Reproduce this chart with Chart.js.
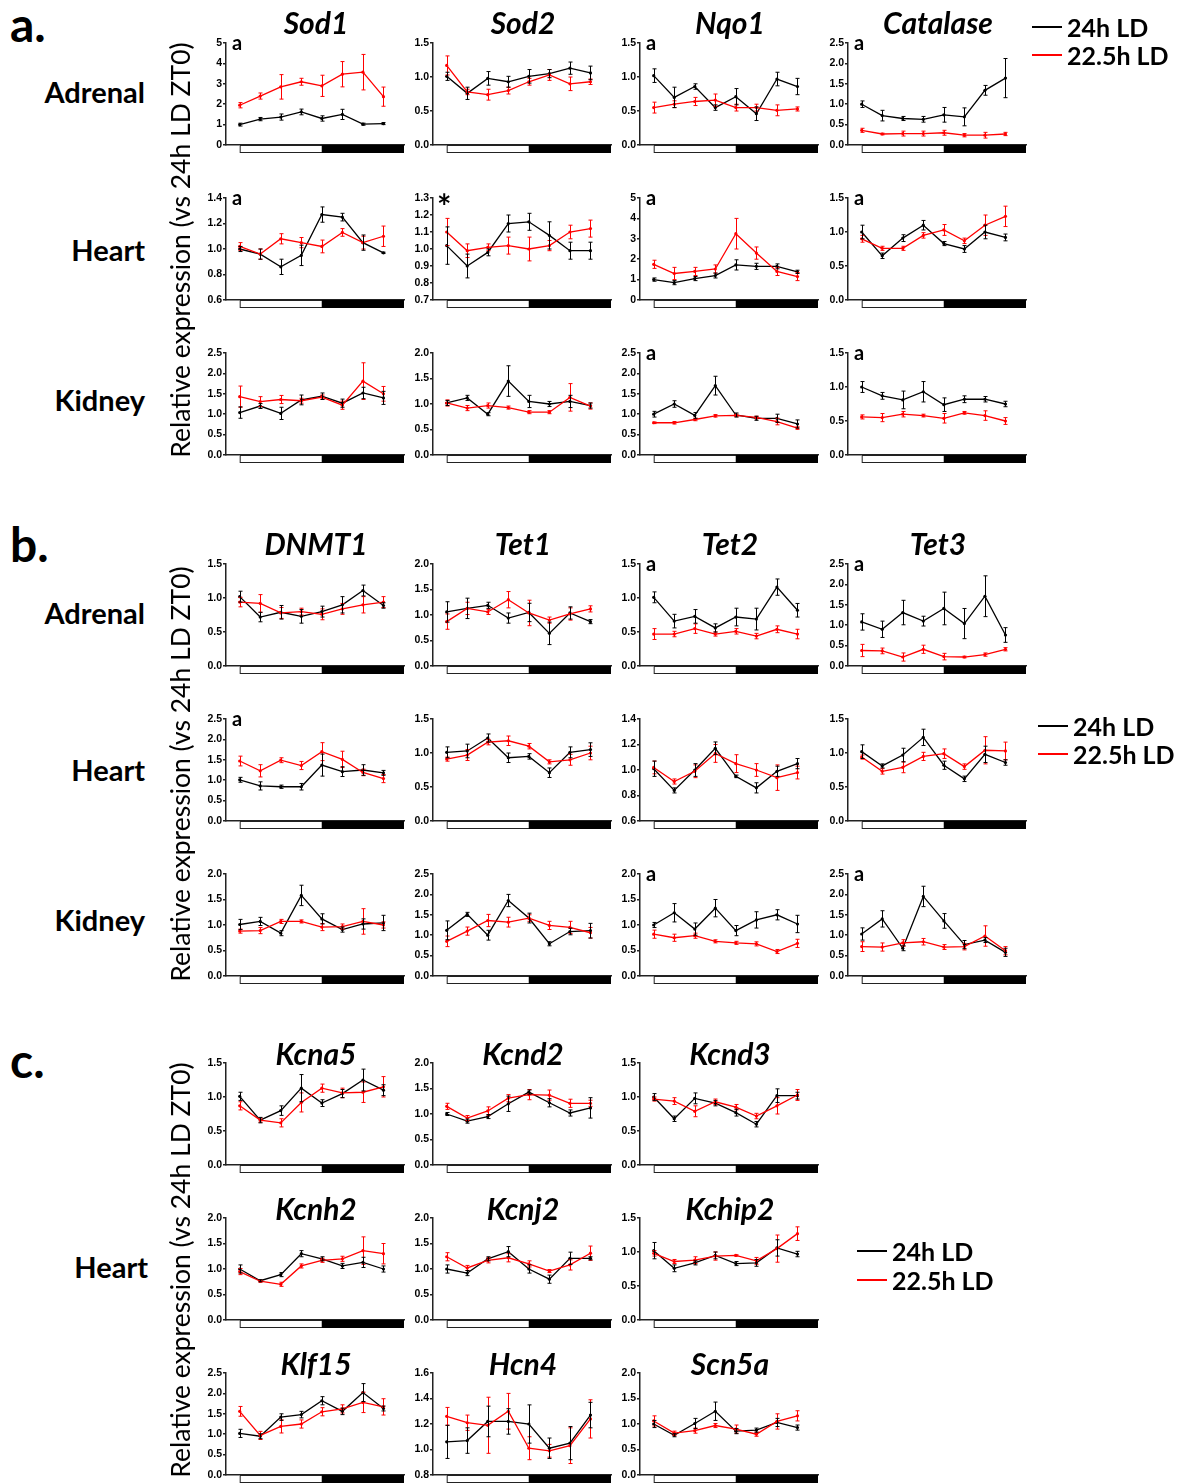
<!DOCTYPE html>
<html>
<head>
<meta charset="utf-8">
<script src="https://cdn.jsdelivr.net/npm/chart.js@4.4.1/dist/chart.umd.min.js"></script>
<style>
  body { margin: 0; background: #fff; }
  #fig { position: relative; width: 1185px; height: 1483px; background: #fff; overflow: hidden; font-family: Lato, "Open Sans", sans-serif; color: #000; }
  #fig canvas { position: absolute; }
  .txt { position: absolute; white-space: nowrap; line-height: 1; }
  .sec { font-weight: 700; font-size: 48px; }
  .ttl { font-weight: 700; font-style: italic; font-size: 30px; transform: translate(-50%, -50%); }
  .row { font-weight: 700; font-size: 29px; transform: translate(-100%, -50%); }
  .ylab { font-size: 26.5px; transform: translate(-50%, -50%) rotate(-90deg); }
  .mark { font-weight: 700; font-size: 20px; }
  .leg { font-weight: 700; font-size: 25px; transform: translateY(-50%); }
  .legline { position: absolute; width: 30px; height: 2px; }
</style>
</head>
<body>
<div id="fig"></div>
<script>
const ztHours = [0, 3, 6, 9, 12, 15, 18, 21];

// a. adrenal
const sod1Adr24 = [1.0, 1.27, 1.37, 1.62, 1.3, 1.5, 1.02, 1.05];
const sod1Adr24Err = [0.07, 0.08, 0.15, 0.14, 0.13, 0.25, 0.05, 0.05];
const sod1Adr22 = [1.95, 2.4, 2.85, 3.1, 2.9, 3.47, 3.57, 2.37];
const sod1Adr22Err = [0.13, 0.15, 0.6, 0.17, 0.52, 0.62, 0.87, 0.47];
const sod2Adr24 = [1.01, 0.76, 0.98, 0.93, 1.01, 1.05, 1.13, 1.06];
const sod2Adr24Err = [0.06, 0.09, 0.1, 0.08, 0.1, 0.06, 0.09, 0.1];
const sod2Adr22 = [1.17, 0.78, 0.74, 0.8, 0.93, 1.03, 0.9, 0.93];
const sod2Adr22Err = [0.14, 0.04, 0.08, 0.05, 0.05, 0.08, 0.1, 0.04];
const nqo1Adr24 = [1.02, 0.7, 0.86, 0.55, 0.71, 0.46, 0.97, 0.86];
const nqo1Adr24Err = [0.1, 0.15, 0.04, 0.04, 0.12, 0.1, 0.1, 0.12];
const nqo1Adr22 = [0.55, 0.6, 0.64, 0.66, 0.55, 0.55, 0.51, 0.53];
const nqo1Adr22Err = [0.08, 0.05, 0.06, 0.09, 0.05, 0.05, 0.08, 0.03];
const catAdr24 = [1.0, 0.72, 0.65, 0.63, 0.74, 0.69, 1.34, 1.64];
const catAdr24Err = [0.08, 0.13, 0.05, 0.07, 0.18, 0.22, 0.12, 0.48];
const catAdr22 = [0.36, 0.27, 0.28, 0.28, 0.3, 0.24, 0.24, 0.27];
const catAdr22Err = [0.05, 0.02, 0.06, 0.06, 0.06, 0.04, 0.07, 0.04];

// a. heart
const sod1Hrt24 = [1.0, 0.96, 0.86, 0.95, 1.27, 1.25, 1.05, 0.97];
const sod1Hrt24Err = [0.02, 0.04, 0.06, 0.08, 0.06, 0.03, 0.06, 0.005];
const sod1Hrt22 = [1.02, 0.96, 1.08, 1.05, 1.02, 1.13, 1.05, 1.1];
const sod1Hrt22Err = [0.03, 0.04, 0.04, 0.04, 0.05, 0.03, 0.05, 0.08];
const sod2Hrt24 = [1.02, 0.9, 0.98, 1.15, 1.16, 1.08, 0.99, 0.99];
const sod2Hrt24Err = [0.11, 0.07, 0.02, 0.05, 0.05, 0.08, 0.05, 0.05];
const sod2Hrt22 = [1.1, 0.99, 1.01, 1.02, 1.0, 1.02, 1.1, 1.12];
const sod2Hrt22Err = [0.08, 0.04, 0.02, 0.05, 0.07, 0.03, 0.04, 0.05];
const nqo1Hrt24 = [1.0, 0.85, 1.05, 1.2, 1.72, 1.65, 1.65, 1.38];
const nqo1Hrt24Err = [0.08, 0.1, 0.1, 0.12, 0.25, 0.15, 0.12, 0.08];
const nqo1Hrt22 = [1.75, 1.3, 1.4, 1.52, 3.25, 2.3, 1.4, 1.15];
const nqo1Hrt22Err = [0.2, 0.3, 0.2, 0.2, 0.75, 0.3, 0.2, 0.2];
const catHrt24 = [1.0, 0.65, 0.91, 1.1, 0.83, 0.75, 1.0, 0.92];
const catHrt24Err = [0.1, 0.04, 0.05, 0.07, 0.03, 0.05, 0.1, 0.05];
const catHrt22 = [0.9, 0.76, 0.76, 0.95, 1.03, 0.87, 1.1, 1.23];
const catHrt22Err = [0.05, 0.03, 0.03, 0.04, 0.08, 0.04, 0.15, 0.15];

// a. kidney
const sod1Kid24 = [1.04, 1.2, 1.02, 1.35, 1.44, 1.27, 1.52, 1.4];
const sod1Kid24Err = [0.14, 0.06, 0.15, 0.12, 0.08, 0.1, 0.14, 0.16];
const sod1Kid22 = [1.43, 1.31, 1.36, 1.33, 1.42, 1.22, 1.81, 1.5];
const sod1Kid22Err = [0.26, 0.12, 0.1, 0.06, 0.05, 0.1, 0.45, 0.18];
const sod2Kid24 = [1.02, 1.12, 0.8, 1.45, 1.05, 1.0, 1.05, 0.97];
const sod2Kid24Err = [0.05, 0.05, 0.03, 0.3, 0.12, 0.05, 0.12, 0.05];
const sod2Kid22 = [1.02, 0.92, 0.97, 0.93, 0.84, 0.84, 1.13, 0.96];
const sod2Kid22Err = [0.06, 0.05, 0.05, 0.03, 0.03, 0.03, 0.27, 0.06];
const nqo1Kid24 = [1.0, 1.25, 0.97, 1.7, 0.98, 0.9, 0.9, 0.76];
const nqo1Kid24Err = [0.07, 0.08, 0.07, 0.23, 0.05, 0.05, 0.1, 0.1];
const nqo1Kid22 = [0.79, 0.79, 0.87, 0.96, 0.97, 0.92, 0.82, 0.66];
const nqo1Kid22Err = [0.02, 0.03, 0.03, 0.03, 0.03, 0.03, 0.08, 0.03];
const catKid24 = [1.0, 0.87, 0.81, 0.93, 0.74, 0.82, 0.82, 0.75];
const catKid24Err = [0.08, 0.05, 0.13, 0.15, 0.1, 0.05, 0.04, 0.04];
const catKid22 = [0.56, 0.55, 0.6, 0.58, 0.54, 0.62, 0.58, 0.5];
const catKid22Err = [0.03, 0.06, 0.04, 0.02, 0.07, 0.02, 0.07, 0.05];

// b. adrenal
const dnmtAdr24 = [1.02, 0.72, 0.79, 0.73, 0.8, 0.9, 1.11, 0.89];
const dnmtAdr24Err = [0.08, 0.07, 0.1, 0.1, 0.08, 0.12, 0.08, 0.04];
const dnmtAdr22 = [0.94, 0.92, 0.78, 0.8, 0.76, 0.84, 0.9, 0.94];
const dnmtAdr22Err = [0.07, 0.13, 0.08, 0.05, 0.08, 0.08, 0.12, 0.08];
const tet1Adr24 = [1.06, 1.13, 1.19, 0.94, 1.05, 0.64, 1.04, 0.87];
const tet1Adr24Err = [0.2, 0.2, 0.06, 0.1, 0.18, 0.22, 0.12, 0.04];
const tet1Adr22 = [0.87, 1.13, 1.06, 1.3, 1.04, 0.9, 1.02, 1.12];
const tet1Adr22Err = [0.15, 0.12, 0.05, 0.16, 0.25, 0.06, 0.12, 0.06];
const tet2Adr24 = [1.01, 0.66, 0.73, 0.56, 0.72, 0.69, 1.16, 0.82];
const tet2Adr24Err = [0.08, 0.1, 0.1, 0.06, 0.13, 0.16, 0.12, 0.1];
const tet2Adr22 = [0.47, 0.47, 0.55, 0.47, 0.51, 0.44, 0.54, 0.47];
const tet2Adr22Err = [0.08, 0.04, 0.07, 0.03, 0.04, 0.04, 0.05, 0.07];
const tet3Adr24 = [1.08, 0.9, 1.31, 1.1, 1.41, 1.04, 1.71, 0.76];
const tet3Adr24Err = [0.2, 0.2, 0.3, 0.12, 0.4, 0.37, 0.5, 0.18];
const tet3Adr22 = [0.38, 0.37, 0.22, 0.41, 0.23, 0.22, 0.28, 0.41];
const tet3Adr22Err = [0.15, 0.07, 0.1, 0.1, 0.08, 0.02, 0.04, 0.04];

// b. heart
const dnmtHrt24 = [1.01, 0.86, 0.84, 0.84, 1.37, 1.21, 1.25, 1.18];
const dnmtHrt24Err = [0.06, 0.1, 0.04, 0.08, 0.27, 0.12, 0.13, 0.06];
const dnmtHrt22 = [1.47, 1.23, 1.49, 1.36, 1.7, 1.51, 1.19, 1.04];
const dnmtHrt22Err = [0.12, 0.15, 0.06, 0.1, 0.22, 0.2, 0.08, 0.1];
const tet1Hrt24 = [1.01, 1.03, 1.22, 0.93, 0.95, 0.71, 1.01, 1.05];
const tet1Hrt24Err = [0.08, 0.1, 0.06, 0.07, 0.04, 0.07, 0.08, 0.1];
const tet1Hrt22 = [0.91, 0.97, 1.16, 1.18, 1.1, 0.87, 0.9, 1.0];
const tet1Hrt22Err = [0.03, 0.08, 0.04, 0.07, 0.04, 0.03, 0.08, 0.1];
const tet2Hrt24 = [1.01, 0.84, 1.0, 1.17, 0.95, 0.86, 0.99, 1.05];
const tet2Hrt24Err = [0.06, 0.02, 0.05, 0.05, 0.01, 0.04, 0.04, 0.04];
const tet2Hrt22 = [1.02, 0.91, 0.99, 1.13, 1.05, 1.0, 0.94, 0.98];
const tet2Hrt22Err = [0.05, 0.02, 0.05, 0.07, 0.07, 0.05, 0.1, 0.05];
const tet3Hrt24 = [1.02, 0.81, 0.97, 1.23, 0.82, 0.62, 0.98, 0.86];
const tet3Hrt24Err = [0.1, 0.03, 0.1, 0.12, 0.06, 0.04, 0.12, 0.04];
const tet3Hrt22 = [0.94, 0.73, 0.79, 0.95, 0.99, 0.8, 1.04, 1.03];
const tet3Hrt22Err = [0.03, 0.04, 0.08, 0.06, 0.07, 0.04, 0.2, 0.13];

// b. kidney
const dnmtKid24 = [1.01, 1.07, 0.84, 1.58, 1.12, 0.91, 1.02, 1.04];
const dnmtKid24Err = [0.1, 0.08, 0.05, 0.2, 0.1, 0.05, 0.1, 0.15];
const dnmtKid22 = [0.88, 0.89, 1.07, 1.07, 0.96, 0.97, 1.07, 1.0];
const dnmtKid22Err = [0.04, 0.06, 0.04, 0.03, 0.07, 0.05, 0.25, 0.06];
const tet1Kid24 = [1.12, 1.51, 1.0, 1.85, 1.42, 0.79, 1.09, 1.11];
const tet1Kid24Err = [0.23, 0.05, 0.12, 0.15, 0.12, 0.05, 0.08, 0.18];
const tet1Kid22 = [0.85, 1.1, 1.36, 1.32, 1.42, 1.24, 1.19, 1.06];
const tet1Kid22Err = [0.13, 0.1, 0.15, 0.12, 0.08, 0.1, 0.15, 0.13];
const tet2Kid24 = [1.0, 1.24, 0.92, 1.33, 0.89, 1.1, 1.2, 1.02];
const tet2Kid24Err = [0.05, 0.18, 0.12, 0.17, 0.1, 0.16, 0.1, 0.17];
const tet2Kid22 = [0.82, 0.75, 0.79, 0.68, 0.65, 0.63, 0.48, 0.64];
const tet2Kid22Err = [0.08, 0.07, 0.05, 0.03, 0.03, 0.04, 0.04, 0.08];
const tet3Kid24 = [1.03, 1.4, 0.68, 1.95, 1.35, 0.77, 0.88, 0.58];
const tet3Kid24Err = [0.15, 0.2, 0.06, 0.25, 0.18, 0.1, 0.06, 0.1];
const tet3Kid22 = [0.72, 0.71, 0.81, 0.84, 0.71, 0.72, 0.98, 0.62];
const tet3Kid22Err = [0.12, 0.1, 0.08, 0.08, 0.06, 0.08, 0.25, 0.1];

// c. heart
const kcna5_24 = [1.01, 0.66, 0.8, 1.13, 0.91, 1.05, 1.25, 1.1];
const kcna5_24Err = [0.06, 0.04, 0.07, 0.2, 0.05, 0.06, 0.16, 0.08];
const kcna5_22 = [0.87, 0.66, 0.62, 0.92, 1.13, 1.06, 1.07, 1.15];
const kcna5_22Err = [0.06, 0.03, 0.06, 0.14, 0.06, 0.07, 0.15, 0.15];
const kcnd2_24 = [1.0, 0.86, 0.95, 1.2, 1.43, 1.22, 1.02, 1.12];
const kcnd2_24Err = [0.03, 0.04, 0.04, 0.15, 0.04, 0.08, 0.06, 0.2];
const kcnd2_22 = [1.15, 0.92, 1.06, 1.31, 1.38, 1.37, 1.21, 1.21];
const kcnd2_22Err = [0.06, 0.05, 0.08, 0.07, 0.1, 0.1, 0.08, 0.06];
const kcnd3_24 = [1.0, 0.68, 0.98, 0.91, 0.77, 0.6, 1.02, 1.02];
const kcnd3_24Err = [0.05, 0.04, 0.08, 0.04, 0.05, 0.04, 0.1, 0.05];
const kcnd3_22 = [0.97, 0.94, 0.79, 0.93, 0.85, 0.72, 0.87, 1.03];
const kcnd3_22Err = [0.03, 0.05, 0.08, 0.04, 0.04, 0.04, 0.12, 0.08];
const kcnh2_24 = [1.0, 0.77, 0.89, 1.3, 1.2, 1.06, 1.13, 1.0];
const kcnh2_24Err = [0.08, 0.02, 0.04, 0.06, 0.04, 0.05, 0.1, 0.06];
const kcnh2_22 = [0.95, 0.76, 0.7, 1.06, 1.17, 1.2, 1.36, 1.3];
const kcnh2_22Err = [0.06, 0.02, 0.04, 0.04, 0.04, 0.05, 0.27, 0.2];
const kcnj2_24 = [1.0, 0.92, 1.2, 1.34, 1.0, 0.8, 1.21, 1.21];
const kcnj2_24Err = [0.08, 0.05, 0.04, 0.1, 0.08, 0.08, 0.12, 0.03];
const kcnj2_22 = [1.24, 1.02, 1.17, 1.22, 1.1, 0.96, 1.08, 1.31];
const kcnj2_22Err = [0.08, 0.05, 0.05, 0.08, 0.06, 0.03, 0.1, 0.14];
const kchip2_24 = [1.02, 0.76, 0.84, 0.95, 0.83, 0.84, 1.06, 0.97];
const kchip2_24Err = [0.12, 0.05, 0.03, 0.05, 0.03, 0.05, 0.12, 0.04];
const kchip2_22 = [0.98, 0.86, 0.88, 0.94, 0.95, 0.87, 1.05, 1.27];
const kchip2_22Err = [0.04, 0.03, 0.05, 0.06, 0.01, 0.05, 0.2, 0.1];
const klf15_24 = [1.02, 0.95, 1.42, 1.48, 1.82, 1.56, 2.02, 1.63];
const klf15_24Err = [0.1, 0.06, 0.08, 0.08, 0.1, 0.08, 0.22, 0.06];
const klf15_22 = [1.56, 0.97, 1.19, 1.25, 1.55, 1.62, 1.78, 1.67];
const klf15_22Err = [0.12, 0.1, 0.16, 0.1, 0.1, 0.1, 0.25, 0.2];
const hcn4_24 = [1.06, 1.07, 1.22, 1.22, 1.2, 1.01, 1.05, 1.27];
const hcn4_24Err = [0.13, 0.1, 0.12, 0.1, 0.15, 0.08, 0.13, 0.1];
const hcn4_22 = [1.26, 1.21, 1.19, 1.3, 1.01, 0.99, 1.03, 1.24];
const hcn4_22Err = [0.07, 0.06, 0.22, 0.14, 0.09, 0.05, 0.14, 0.15];
const scn5a_24 = [1.0, 0.78, 1.01, 1.25, 0.86, 0.88, 1.03, 0.93];
const scn5a_24Err = [0.07, 0.03, 0.1, 0.18, 0.05, 0.04, 0.08, 0.05];
const scn5a_22 = [1.06, 0.82, 0.87, 0.97, 0.9, 0.8, 1.05, 1.16];
const scn5a_22Err = [0.1, 0.04, 0.05, 0.04, 0.08, 0.04, 0.15, 0.1];

const colLefts = [239, 446, 653, 861];
const topsA = [43, 198, 353];
const topsB = [564, 719, 874];
const topsC = [1063, 1218, 1373];

// [col, top, title, yMin, yMax, step, mark, ld24, ld24Err, ld22, ld22Err]
const panels = [
  [0, topsA[0], 'Sod1', 0, 5, 1, 'a', sod1Adr24, sod1Adr24Err, sod1Adr22, sod1Adr22Err],
  [1, topsA[0], 'Sod2', 0, 1.5, 0.5, '', sod2Adr24, sod2Adr24Err, sod2Adr22, sod2Adr22Err],
  [2, topsA[0], 'Nqo1', 0, 1.5, 0.5, 'a', nqo1Adr24, nqo1Adr24Err, nqo1Adr22, nqo1Adr22Err],
  [3, topsA[0], 'Catalase', 0, 2.5, 0.5, 'a', catAdr24, catAdr24Err, catAdr22, catAdr22Err],
  [0, topsA[1], '', 0.6, 1.4, 0.2, 'a', sod1Hrt24, sod1Hrt24Err, sod1Hrt22, sod1Hrt22Err],
  [1, topsA[1], '', 0.7, 1.3, 0.1, '*', sod2Hrt24, sod2Hrt24Err, sod2Hrt22, sod2Hrt22Err],
  [2, topsA[1], '', 0, 5, 1, 'a', nqo1Hrt24, nqo1Hrt24Err, nqo1Hrt22, nqo1Hrt22Err],
  [3, topsA[1], '', 0, 1.5, 0.5, 'a', catHrt24, catHrt24Err, catHrt22, catHrt22Err],
  [0, topsA[2], '', 0, 2.5, 0.5, '', sod1Kid24, sod1Kid24Err, sod1Kid22, sod1Kid22Err],
  [1, topsA[2], '', 0, 2.0, 0.5, '', sod2Kid24, sod2Kid24Err, sod2Kid22, sod2Kid22Err],
  [2, topsA[2], '', 0, 2.5, 0.5, 'a', nqo1Kid24, nqo1Kid24Err, nqo1Kid22, nqo1Kid22Err],
  [3, topsA[2], '', 0, 1.5, 0.5, 'a', catKid24, catKid24Err, catKid22, catKid22Err],

  [0, topsB[0], 'DNMT1', 0, 1.5, 0.5, '', dnmtAdr24, dnmtAdr24Err, dnmtAdr22, dnmtAdr22Err],
  [1, topsB[0], 'Tet1', 0, 2.0, 0.5, '', tet1Adr24, tet1Adr24Err, tet1Adr22, tet1Adr22Err],
  [2, topsB[0], 'Tet2', 0, 1.5, 0.5, 'a', tet2Adr24, tet2Adr24Err, tet2Adr22, tet2Adr22Err],
  [3, topsB[0], 'Tet3', 0, 2.5, 0.5, 'a', tet3Adr24, tet3Adr24Err, tet3Adr22, tet3Adr22Err],
  [0, topsB[1], '', 0, 2.5, 0.5, 'a', dnmtHrt24, dnmtHrt24Err, dnmtHrt22, dnmtHrt22Err],
  [1, topsB[1], '', 0, 1.5, 0.5, '', tet1Hrt24, tet1Hrt24Err, tet1Hrt22, tet1Hrt22Err],
  [2, topsB[1], '', 0.6, 1.4, 0.2, '', tet2Hrt24, tet2Hrt24Err, tet2Hrt22, tet2Hrt22Err],
  [3, topsB[1], '', 0, 1.5, 0.5, '', tet3Hrt24, tet3Hrt24Err, tet3Hrt22, tet3Hrt22Err],
  [0, topsB[2], '', 0, 2.0, 0.5, '', dnmtKid24, dnmtKid24Err, dnmtKid22, dnmtKid22Err],
  [1, topsB[2], '', 0, 2.5, 0.5, '', tet1Kid24, tet1Kid24Err, tet1Kid22, tet1Kid22Err],
  [2, topsB[2], '', 0, 2.0, 0.5, 'a', tet2Kid24, tet2Kid24Err, tet2Kid22, tet2Kid22Err],
  [3, topsB[2], '', 0, 2.5, 0.5, 'a', tet3Kid24, tet3Kid24Err, tet3Kid22, tet3Kid22Err],

  [0, topsC[0], 'Kcna5', 0, 1.5, 0.5, '', kcna5_24, kcna5_24Err, kcna5_22, kcna5_22Err],
  [1, topsC[0], 'Kcnd2', 0, 2.0, 0.5, '', kcnd2_24, kcnd2_24Err, kcnd2_22, kcnd2_22Err],
  [2, topsC[0], 'Kcnd3', 0, 1.5, 0.5, '', kcnd3_24, kcnd3_24Err, kcnd3_22, kcnd3_22Err],
  [0, topsC[1], 'Kcnh2', 0, 2.0, 0.5, '', kcnh2_24, kcnh2_24Err, kcnh2_22, kcnh2_22Err],
  [1, topsC[1], 'Kcnj2', 0, 2.0, 0.5, '', kcnj2_24, kcnj2_24Err, kcnj2_22, kcnj2_22Err],
  [2, topsC[1], 'Kchip2', 0, 1.5, 0.5, '', kchip2_24, kchip2_24Err, kchip2_22, kchip2_22Err],
  [0, topsC[2], 'Klf15', 0, 2.5, 0.5, '', klf15_24, klf15_24Err, klf15_22, klf15_22Err],
  [1, topsC[2], 'Hcn4', 0.8, 1.6, 0.2, '', hcn4_24, hcn4_24Err, hcn4_22, hcn4_22Err],
  [2, topsC[2], 'Scn5a', 0, 2.0, 0.5, '', scn5a_24, scn5a_24Err, scn5a_22, scn5a_22Err],
];

const fig = document.getElementById('fig');

function addText(cls, text, left, top, extra) {
  const d = document.createElement('div');
  d.className = 'txt ' + cls;
  d.textContent = text;
  d.style.left = left + 'px';
  d.style.top = top + 'px';
  if (extra) Object.assign(d.style, extra);
  fig.appendChild(d);
  return d;
}

// error bars drawn with the chart's own scales
const errorBars = {
  id: 'errorBars',
  afterDatasetsDraw(chart) {
    const { ctx, scales: { x, y } } = chart;
    chart.data.datasets.forEach((ds) => {
      ctx.save();
      ctx.strokeStyle = ds.borderColor;
      ctx.lineWidth = 1;
      ds.data.forEach((p, i) => {
        const e = ds.err[i];
        const px = Math.round(x.getPixelForValue(p.x)) + 0.5;
        const hi = y.getPixelForValue(p.y + e);
        const lo = y.getPixelForValue(p.y - e);
        ctx.beginPath();
        ctx.moveTo(px, hi);
        ctx.lineTo(px, lo);
        ctx.moveTo(px - 2, hi);
        ctx.lineTo(px + 2, hi);
        ctx.moveTo(px - 2, lo);
        ctx.lineTo(px + 2, lo);
        ctx.stroke();
      });
      ctx.restore();
    });
  },
};

// light / dark bar under the x axis
const lightDark = {
  id: 'lightDark',
  afterDraw(chart) {
    const { ctx, chartArea, scales: { x } } = chart;
    const x0 = x.getPixelForValue(0);
    const x12 = x.getPixelForValue(12);
    const x24 = x.getPixelForValue(24);
    const top = chartArea.bottom;
    ctx.save();
    ctx.fillStyle = '#fff';
    ctx.fillRect(x0, top, x12 - x0, 8);
    ctx.strokeStyle = '#222';
    ctx.lineWidth = 1;
    ctx.strokeRect(x0 + 0.5, top + 0.5, x12 - x0, 7);
    ctx.fillStyle = '#000';
    ctx.fillRect(x12, top, x24 - x12, 8);
    ctx.restore();
  },
};

const CW = 215, CH = 125;

panels.forEach(([col, top, title, yMin, yMax, step, mark, a24, e24, a22, e22]) => {
  const barLeft = colLefts[col];
  const canvas = document.createElement('canvas');
  canvas.width = CW;
  canvas.height = CH;
  canvas.style.left = (barLeft - 45) + 'px';
  canvas.style.top = (top - 10) + 'px';
  canvas.style.width = CW + 'px';
  canvas.style.height = CH + 'px';
  fig.appendChild(canvas);

  const mk = (vals, errs, color) => ({
    data: ztHours.map((h, i) => ({ x: h, y: vals[i] })),
    err: errs,
    borderColor: color,
    backgroundColor: color,
    borderWidth: 1.3,
    pointRadius: 1.6,
    pointBorderWidth: 0,
    pointBackgroundColor: color,
    tension: 0,
  });

  new Chart(canvas, {
    type: 'line',
    data: { datasets: [mk(a22, e22, '#ff0000'), mk(a24, e24, '#000000')] },
    options: {
      responsive: false,
      animation: false,
      devicePixelRatio: 1,
      layout: { padding: { top: 10, right: 5, left: 0, bottom: 0 } },
      plugins: { legend: { display: false }, tooltip: { enabled: false } },
      scales: {
        x: {
          type: 'linear',
          min: -2,
          max: 24,
          ticks: { display: false },
          grid: { display: false },
          border: { display: true, color: '#222', width: 1.5 },
          afterFit: (s) => { s.height = 13; },
        },
        y: {
          min: yMin,
          max: yMax,
          ticks: {
            stepSize: step,
            autoSkip: false,
            padding: 1,
            color: '#000',
            font: { family: 'Liberation Sans', weight: 'bold', size: 10.5 },
            callback: (v) => (step >= 1 ? v.toFixed(0) : v.toFixed(1)),
          },
          grid: { display: true, drawOnChartArea: false, drawTicks: true, tickLength: 3, color: '#222', lineWidth: 1.5 },
          border: { display: true, color: '#222', width: 1.5 },
          afterFit: (s) => { s.width = 32; },
        },
      },
    },
    plugins: [errorBars, lightDark],
  });

  if (title) {
    const ty = top < 1000 ? top - 21 : top - 10;
    addText('ttl', title, barLeft + 77, ty);
  }
  if (mark) {
    addText('mark', mark, barLeft - 7, top - 11, mark === '*' ? { fontSize: '34px', top: (top - 9) + 'px', left: (barLeft - 9) + 'px' } : null);
  }
});

// section letters
addText('sec', 'a.', 10, 0);
addText('sec', 'b.', 10, 520);
addText('sec', 'c.', 10, 1036);

// row labels
[['Adrenal', 91], ['Heart', 249], ['Kidney', 399],
 ['Adrenal', 612], ['Heart', 769], ['Kidney', 919]].forEach(([t, y]) => addText('row', t, 145, y));
addText('row', 'Heart', 148, 1266);

// y axis titles
[250, 774, 1270].forEach((y) => addText('ylab', 'Relative expression (vs 24h LD ZT0)', 180, y));

// legends
function legend(x, y1, y2) {
  [[y1, '#000', '24h LD'], [y2, '#ff0000', '22.5h LD']].forEach(([y, c, t]) => {
    const l = document.createElement('div');
    l.className = 'legline';
    l.style.left = x + 'px';
    l.style.top = (y - 1) + 'px';
    l.style.background = c;
    fig.appendChild(l);
    addText('leg', t, x + 35, y);
  });
}
legend(1032, 27, 55);
legend(1038, 726, 754);
legend(857, 1251, 1280);
</script>
</body>
</html>
